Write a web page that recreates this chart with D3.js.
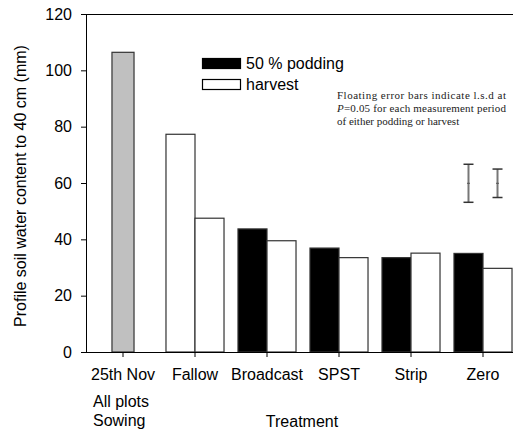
<!DOCTYPE html>
<html><head><meta charset="utf-8">
<script src="https://cdn.jsdelivr.net/npm/d3@7"></script>
<style>body{margin:0;background:#fff}svg{display:block}</style>
</head><body>
<svg id="c" width="513" height="432"></svg>
<script>
const categories = ["25th Nov", "Fallow", "Broadcast", "SPST", "Strip", "Zero"];
const series = ["50 % podding", "harvest"];
const sowingValue = 106.4;           // 25th Nov, all plots, sowing
const podding = [null, 77.3, 43.7, 36.9, 33.5, 35.0];
const harvest = [null, 47.5, 39.5, 33.5, 35.1, 29.7];
const lsdCenter = 59.9;
const lsd = [13.5, 10.1];            // l.s.d. for podding, harvest
const yTicks = [0, 20, 40, 60, 80, 100, 120];
const noteLines = ["Floating error bars indicate l.s.d at", "=0.05 for each measurement period", "of either podding or harvest"];

const svg = d3.select("#c");
const font = "'Liberation Sans', Arial, sans-serif";
const fs = 16;
const m = {left: 86, top: 14, bottom: 352};

const x = d3.scaleBand().domain(categories).range([87, 519]).paddingInner(0.194).paddingOuter(0.097);
const x1 = d3.scaleBand().domain(series).range([0, x.bandwidth()]);
const y = d3.scaleLinear().domain([0, 120]).range([m.bottom, m.top]);

// frame (top line) extends past the right edge
svg.append("line").attr("x1", m.left).attr("x2", 520).attr("y1", y(120) + 0.5).attr("y2", y(120) + 0.5)
  .attr("stroke", "#000").attr("stroke-width", 1);

// bars
const stroke = "#333";
const grayW = x.bandwidth() * 0.38;
svg.append("rect")
  .attr("x", x(categories[0]) + x.bandwidth() / 2 - grayW / 2)
  .attr("y", y(sowingValue)).attr("width", grayW).attr("height", y(0) - y(sowingValue))
  .attr("fill", "#c0c0c0").attr("stroke", stroke).attr("stroke-width", 1.2);

categories.forEach((c, i) => {
  [[podding[i], series[0], "#000"], [harvest[i], series[1], "#fff"]].forEach(([v, s, f]) => {
    if (v == null) return;
    svg.append("rect")
      .attr("x", x(c) + x1(s)).attr("y", y(v))
      .attr("width", x1.bandwidth()).attr("height", y(0) - y(v))
      .attr("fill", (i === 1) ? "#fff" : f).attr("stroke", stroke).attr("stroke-width", 1.2);
  });
});

// axes
const yAxis = svg.append("g").attr("transform", `translate(${m.left},0)`)
  .call(d3.axisLeft(y).tickValues(yTicks).tickSize(5).tickPadding(9));
const xAxis = svg.append("g").attr("transform", `translate(0,${m.bottom})`)
  .call(d3.axisBottom(x).tickSize(5).tickPadding(12).tickSizeOuter(0));
xAxis.select(".domain").attr("d", `M${m.left},0.5H520`);
yAxis.select(".domain").attr("d", `M0.5,${m.top}V${m.bottom}`);
[xAxis, yAxis].forEach(a => {
  a.selectAll("text").attr("font-family", font).attr("font-size", fs).attr("fill", "#000");
  a.selectAll("line,path").attr("stroke", "#000");
});

// extra first-category lines
const subX = x(categories[0]) - 1;
svg.append("text").attr("x", subX).attr("y", 407).attr("font-family", font).attr("font-size", fs).text("All plots");
svg.append("text").attr("x", subX).attr("y", 426).attr("font-family", font).attr("font-size", fs).text("Sowing");

// axis titles
svg.append("text").attr("x", 302).attr("y", 427).attr("text-anchor", "middle")
  .attr("font-family", font).attr("font-size", fs).text("Treatment");
svg.append("text").attr("transform", `translate(26,${(m.top + m.bottom) / 2 + 3}) rotate(-90)`)
  .attr("text-anchor", "middle").attr("font-family", font).attr("font-size", fs)
  .text("Profile soil water content to 40 cm (mm)");

// legend
const lg = svg.append("g").attr("transform", "translate(202,58)");
series.forEach((s, i) => {
  lg.append("rect").attr("x", 0.5).attr("y", i * 21 + 0.5).attr("width", 38).attr("height", 10)
    .attr("fill", i === 0 ? "#000" : "#fff").attr("stroke", "#000").attr("stroke-width", 1.2);
  lg.append("text").attr("x", 44).attr("y", i * 21 + 11).attr("font-family", font)
    .attr("font-size", fs).text(s);
});

// note
const serif = "'Liberation Serif', 'Times New Roman', serif";
const note = svg.append("g").attr("font-family", serif).attr("font-size", 11).attr("fill", "#222");
note.append("text").attr("x", 337).attr("y", 99).attr("textLength", 169).attr("lengthAdjust", "spacing").text(noteLines[0]);
const t2 = note.append("text").attr("x", 337).attr("y", 112).attr("textLength", 169).attr("lengthAdjust", "spacing");
t2.append("tspan").attr("font-style", "italic").text("P");
t2.append("tspan").text(noteLines[1]);
note.append("text").attr("x", 337).attr("y", 125).text(noteLines[2]);

// floating l.s.d. error bars in the Zero group
const last = categories[categories.length - 1];
series.forEach((s, i) => {
  const cx = x(last) + x1(s) + x1.bandwidth() / 2;
  const lo = y(lsdCenter - lsd[i] / 2), hi = y(lsdCenter + lsd[i] / 2), mid = y(lsdCenter);
  const g = svg.append("g");
  g.append("line").attr("x1", cx).attr("x2", cx).attr("y1", hi).attr("y2", lo).attr("stroke", "#777").attr("stroke-width", 2);
  [hi, lo].forEach(yy => g.append("line").attr("x1", cx - 5).attr("x2", cx + 5).attr("y1", yy).attr("y2", yy)
    .attr("stroke", "#333").attr("stroke-width", 1.5));
  g.append("line").attr("x1", cx - 1.5).attr("x2", cx + 1.5).attr("y1", mid).attr("y2", mid).attr("stroke", "#555").attr("stroke-width", 1);
});
</script>
</body></html>
